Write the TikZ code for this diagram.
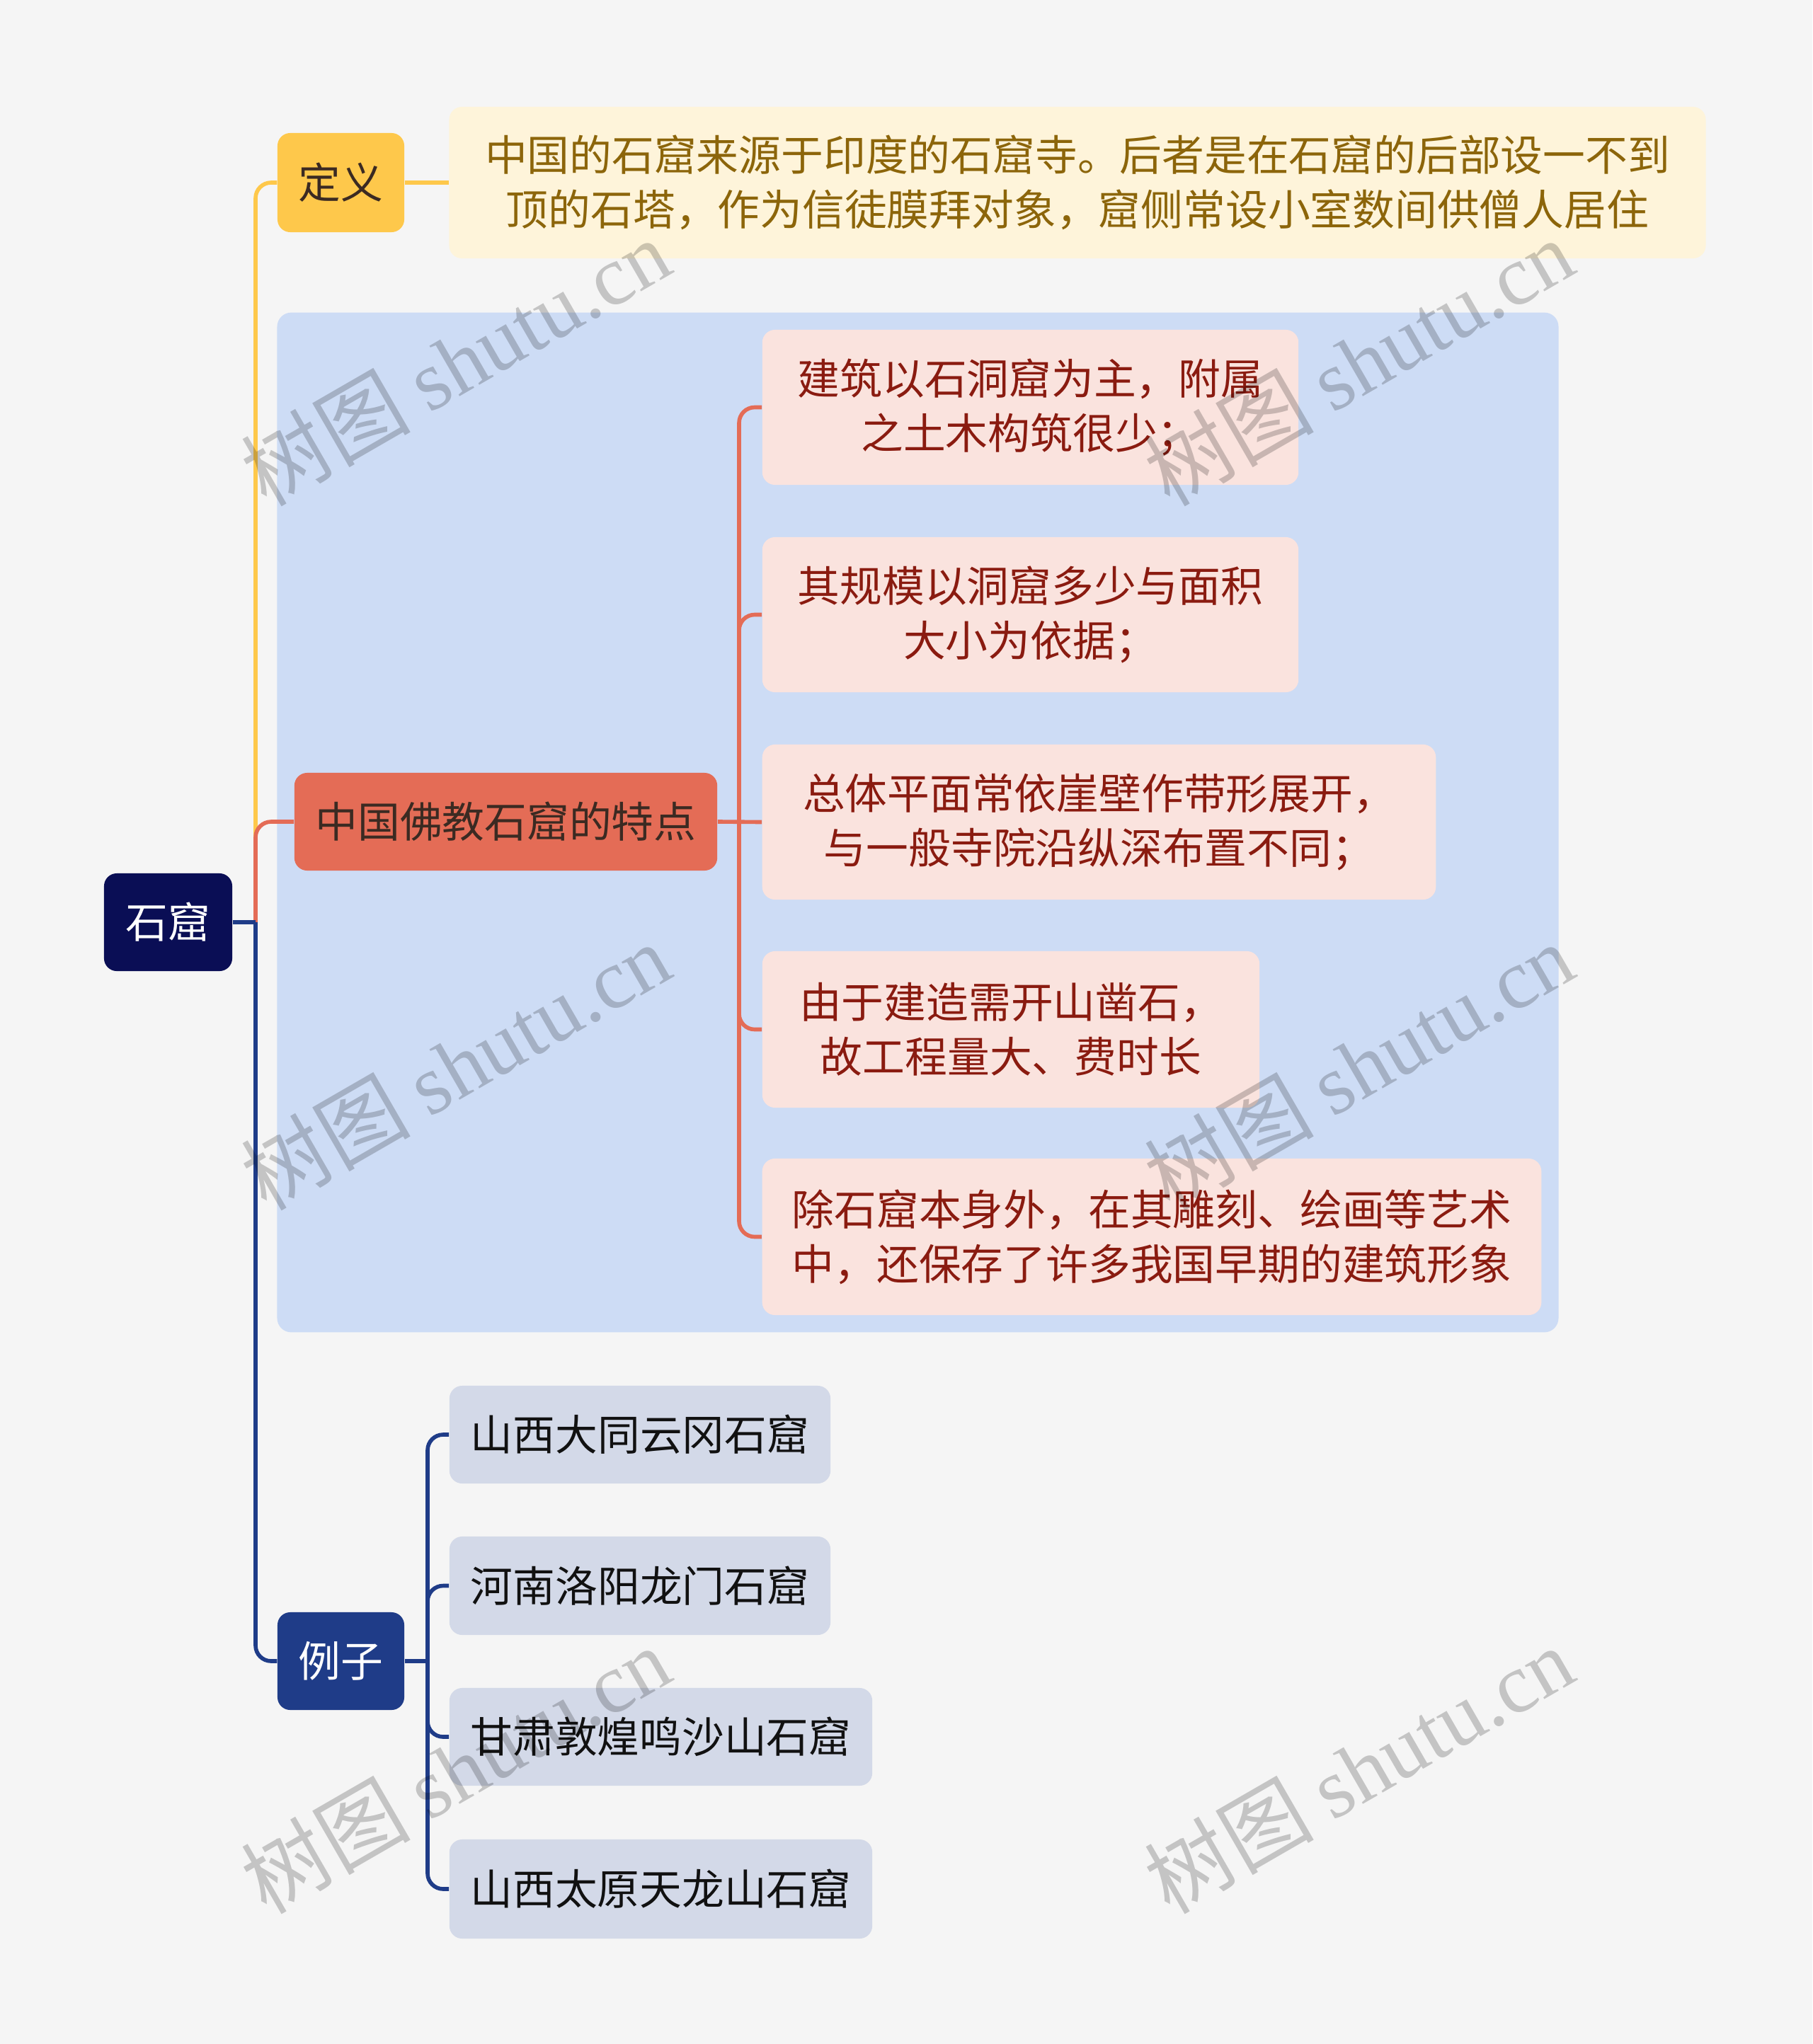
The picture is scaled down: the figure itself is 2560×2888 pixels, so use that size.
\documentclass[tikz,border=0pt]{standalone}
\usepackage{fontspec}
\setmainfont{Noto Sans CJK SC}
\newfontfamily\cjk{Noto Sans CJK SC}
\newfontfamily\wmlatin{Liberation Serif}
\definecolor{bgc}{HTML}{F5F5F5}
\definecolor{ylw}{HTML}{FEC84B}
\definecolor{deffill}{HTML}{FEF4DA}
\definecolor{deftext}{HTML}{8C650A}
\definecolor{areafill}{HTML}{CDDCF5}
\definecolor{featfill}{HTML}{E46C56}
\definecolor{feattext}{HTML}{3B2A22}
\definecolor{chfill}{HTML}{FAE3DE}
\definecolor{chtext}{HTML}{8A1B10}
\definecolor{rootfill}{HTML}{0A0E55}
\definecolor{exfill}{HTML}{1F3C88}
\definecolor{exchfill}{HTML}{D3D9E8}
\definecolor{exchtext}{HTML}{111111}
\newcommand\fsz{\fontsize{17}{21.9}\selectfont}
\tikzset{
  nd/.style={rectangle, rounded corners=0.18cm, inner sep=0pt, align=center, font=\fsz},
  conn/.style={line width=1.6pt},
  wm/.style={inner sep=0pt, font=\fontsize{34}{34}\selectfont, text=black, text opacity=0.2, rotate=30, anchor=base west}
}
\begin{document}
\begin{tikzpicture}[x=0.01cm,y=-0.01cm]
\useasboundingbox (0,0) rectangle (2560,2888);
\fill[bgc] (0,0) rectangle (2560,2888);

% blue area
\node[nd, fill=areafill, rounded corners=0.2cm, minimum width=18.09cm, minimum height=14.40cm] (area) at (1296.5,1162) {};

% nodes
\node[nd, fill=rootfill, text=white, minimum width=1.81cm, minimum height=1.38cm] (root) at (237.5,1303) {石窟};
\node[nd, fill=ylw, text=feattext, minimum width=1.79cm, minimum height=1.40cm] (dy) at (481.5,258) {定义};
\node[nd, fill=deffill, text=deftext, minimum width=17.74cm, minimum height=2.14cm] (def) at (1522,258) {中国的石窟来源于印度的石窟寺。后者是在石窟的后部设一不到\\顶的石塔，作为信徒膜拜对象，窟侧常设小室数间供僧人居住};
\node[nd, fill=featfill, text=feattext, minimum width=5.97cm, minimum height=1.38cm] (feat) at (714.5,1161) {中国佛教石窟的特点};
\node[nd, fill=chfill, text=chtext, minimum width=7.57cm, minimum height=2.19cm] (c1) at (1455.5,575.5) {建筑以石洞窟为主，附属\\之土木构筑很少；};
\node[nd, fill=chfill, text=chtext, minimum width=7.57cm, minimum height=2.19cm] (c2) at (1455.5,868.5) {其规模以洞窟多少与面积\\大小为依据；};
\node[nd, fill=chfill, text=chtext, minimum width=9.51cm, minimum height=2.19cm] (c3) at (1552.5,1161.5) {总体平面常依崖壁作带形展开，\\与一般寺院沿纵深布置不同；};
\node[nd, fill=chfill, text=chtext, minimum width=7.02cm, minimum height=2.21cm] (c4) at (1428,1454.5) {由于建造需开山凿石，\\故工程量大、费时长};
\node[nd, fill=chfill, text=chtext, minimum width=11.00cm, minimum height=2.21cm] (c5) at (1627,1747.5) {除石窟本身外，在其雕刻、绘画等艺术\\中，还保存了许多我国早期的建筑形象};
\node[nd, fill=exfill, text=white, minimum width=1.79cm, minimum height=1.38cm] (ex) at (481.5,2347) {例子};
\node[nd, fill=exchfill, text=exchtext, minimum width=5.38cm, minimum height=1.38cm] (e1) at (904,2027) {山西大同云冈石窟};
\node[nd, fill=exchfill, text=exchtext, minimum width=5.38cm, minimum height=1.39cm] (e2) at (904,2240.5) {河南洛阳龙门石窟};
\node[nd, fill=exchfill, text=exchtext, minimum width=5.97cm, minimum height=1.38cm] (e3) at (933.5,2454) {甘肃敦煌鸣沙山石窟};
\node[nd, fill=exchfill, text=exchtext, minimum width=5.97cm, minimum height=1.40cm] (e4) at (933.5,2669) {山西太原天龙山石窟};

% branch x positions
\coordinate (tx) at (361,0);
\coordinate (fx) at (1044,0);
\coordinate (exx) at (604,0);

% main trunk
\draw[conn, ylw, rounded corners=0.22cm] (root.east -| tx) |- (dy.west);
\draw[conn, ylw] (dy.east) -- (def.west);
\draw[conn, featfill, rounded corners=0.22cm] (root.east -| tx) |- (feat.west);
\draw[conn, exfill, rounded corners=0.22cm] (root.east -| tx) |- (ex.west);
\draw[conn, exfill] (root.east) -- (root.east -| tx);

% feature branches
\draw[conn, featfill] (feat.east) -- (c3.west);
\draw[conn, featfill, rounded corners=0.22cm] (feat.east -| fx) |- (c1.west);
\draw[conn, featfill, rounded corners=0.22cm] (feat.east -| fx) |- (c2.west);
\draw[conn, featfill, rounded corners=0.22cm] (feat.east -| fx) |- (c4.west);
\draw[conn, featfill, rounded corners=0.22cm] (feat.east -| fx) |- (c5.west);

% example branches
\draw[conn, exfill] (ex.east) -- (ex.east -| exx);
\draw[conn, exfill, rounded corners=0.22cm] (ex.east -| exx) |- (e1.west);
\draw[conn, exfill, rounded corners=0.22cm] (ex.east -| exx) |- (e2.west);
\draw[conn, exfill, rounded corners=0.22cm] (ex.east -| exx) |- (e3.west);
\draw[conn, exfill, rounded corners=0.22cm] (ex.east -| exx) |- (e4.west);

% watermarks
\node[wm] (w1) at (376,718) {\cjk 树图 {\wmlatin shutu.cn}};
\node[wm] (w2) at (1652,718) {\cjk 树图 {\wmlatin shutu.cn}};
\node[wm] (w3) at (376,1712.5) {\cjk 树图 {\wmlatin shutu.cn}};
\node[wm] (w4) at (1652,1712.5) {\cjk 树图 {\wmlatin shutu.cn}};
\node[wm] (w5) at (376,2707) {\cjk 树图 {\wmlatin shutu.cn}};
\node[wm] (w6) at (1652,2707) {\cjk 树图 {\wmlatin shutu.cn}};
\end{tikzpicture}
\end{document}
